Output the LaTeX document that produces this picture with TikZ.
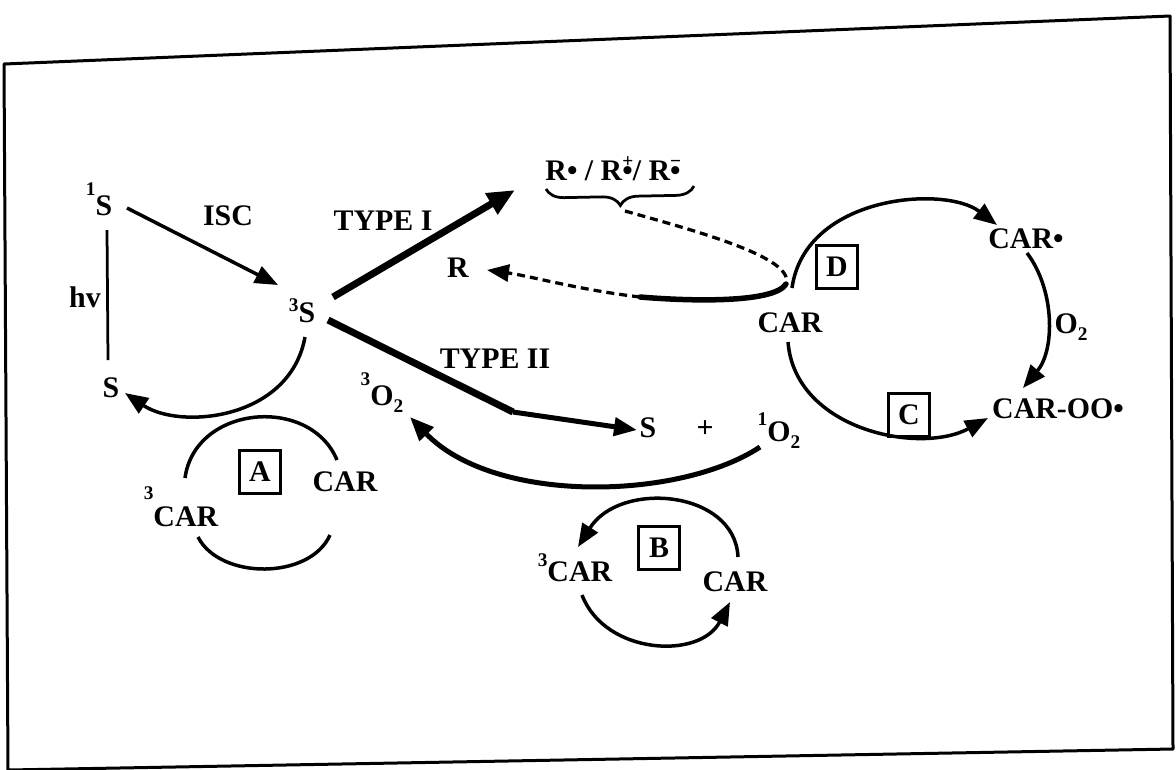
\documentclass[tikz,border=0pt]{standalone}
\usepackage{fontspec}
\setmainfont{Liberation Serif}
\usetikzlibrary{arrows.meta,decorations.pathreplacing,calc}

% raised / lowered small digits
\newcommand{\sps}[2]{\raisebox{#1pt}{\fontsize{11}{11}\selectfont\bfseries #2}}
\newcommand{\sbtwo}{\raisebox{-4.5pt}{\fontsize{11}{11}\selectfont\bfseries 2}}
% charge sign stacked over the radical dot
\newcommand{\chg}[1]{\rlap{\raisebox{7pt}{\fontsize{11}{11}\selectfont\bfseries #1}}•}

\begin{document}
\begin{tikzpicture}[x=0.02cm,y=-0.02cm,
  lbl/.style={anchor=base,inner sep=0pt,font=\fontsize{17}{20}\selectfont\bfseries},
  tagbox/.style={draw,line width=0.06cm,minimum width=0.82cm,minimum height=0.86cm,inner sep=0pt,font=\fontsize{17}{20}\selectfont\bfseries},
  arc/.style={line width=0.07cm},
  arr/.style={line width=0.07cm,-{Triangle[length=0.46cm,width=0.36cm]}},
  thk/.style={line width=0.14cm},
  thkarr/.style={line width=0.14cm,-{Triangle[length=0.55cm,width=0.46cm]}},
  dsh/.style={line width=0.065cm,dash pattern=on 0.16cm off 0.1cm}]

\useasboundingbox (0,0) rectangle (1176,769);

% frame of the figure
\draw[line width=0.06cm,line join=round] (4,64) -- (1170,16) -- (1173,749) -- (8,770) -- cycle;

% text nodes
\node[lbl] (s1)   at (99,215)  {\sps{11}{1}S};
\node[lbl] (isc)  at (228,225) {ISC};
\node[lbl] (t1)   at (383,230) {TYPE I};
\node[lbl] (rlab) at (613,180) {R• / R\chg{+}/ R\chg{\textminus}};
\node[lbl] (hv)   at (85,307)  {hv};
\node[lbl] (s3)   at (302,322) {\sps{6}{3}S};
\node[lbl] (r)    at (458,277) {R};
\node[lbl] (t2)   at (495,368) {TYPE II};
\node[lbl] (s0)   at (111,397) {S};
\node[lbl] (o3)   at (382,405) {\sps{11}{3}O\sbtwo};
\node[lbl] (s2)   at (648,437) {S};
\node[lbl] (plus) at (705,437) {+};
\node[lbl] (o1)   at (779,441) {\sps{9}{1}O\sbtwo};
\node[lbl] (carD) at (790,332) {CAR};
\node[lbl] (carr) at (1026,248) {CAR•};
\node[lbl] (o2l)  at (1071,333) {O\sbtwo};
\node[lbl] (caroo) at (1058,418) {CAR-OO•};
\node[lbl] (carA) at (345,491) {CAR};
\node[lbl] (car3A) at (181,526) {\sps{15}{3}CAR};
\node[lbl] (car3B) at (575,581) {\sps{8}{3}CAR};
\node[lbl] (carB) at (735,591) {CAR};

% boxed letters
\node[tagbox] (bA) at (260,472) {A};
\node[tagbox] (bB) at (659,548) {B};
\node[tagbox] (bC) at (909,415) {C};
\node[tagbox] (bD) at (837,267) {D};

% brace under the radical species
\coordinate (bl) at (546,189);
\coordinate (br) at (694,186);
\draw[line width=0.055cm,decorate,decoration={brace,mirror,amplitude=0.36cm}] (bl) -- (br);
\coordinate (btip) at (625,211);

% excitation and intersystem crossing
\draw[line width=0.055cm] ([shift={(8,15)}]s1.base) -- ([shift={(-3,-37)}]s0.base);
\draw[arr] ([shift={(28,-7)}]s1.base) -- ([shift={(-24,-37)}]s3.base);

% type I and type II pathways
\draw[thkarr] ([shift={(31,-25)}]s3.base) -- ([shift={(-98,10)}]rlab.base);
\coordinate (kink) at (513,412);
\draw[thk] ([shift={(26,-2)}]s3.base) -- (kink);
\draw[line width=0.1cm,-{Triangle[length=0.46cm,width=0.36cm]}] (kink) -- ([shift={(-11,-7)}]s2.base);

% decay of the triplet back to the ground state
\draw[arr] ([shift={(3,15)}]s3.base) .. controls (290,420) and (180,430) .. ([shift={(14,-4)}]s0.base);

% singlet oxygen back to triplet oxygen
\draw[line width=0.1cm,-{Triangle[length=0.48cm,width=0.38cm]}] ([shift={(-19,6)}]o1.base) .. controls (680,500) and (495,505) .. ([shift={(28,12)}]o3.base);

% electron transfer loop from the radicals back to R
\coordinate (looptip) at (786,284);
\coordinate (solidend) at (640,297);
\draw[dsh] (btip) .. controls (700,232) and (795,258) .. (looptip);
\draw[line width=0.11cm,line cap=round] (looptip) .. controls (775,302) and (700,302) .. (solidend);
\draw[dsh,-{Triangle[length=0.44cm,width=0.34cm]}] (solidend) .. controls (580,290) and (530,276) .. ([shift={(29,-7)}]r.base);

% cycle D / C
\draw[arr] ([shift={(2,-44)}]carD.base) .. controls (805,195) and (945,185) .. ([shift={(-29,-23)}]carr.base);
\draw[arr] ([shift={(-2,10)}]carD.base) .. controls (795,430) and (920,455) .. ([shift={(-70,0)}]caroo.base);
\draw[arr] ([shift={(1,5)}]carr.base) .. controls (1055,290) and (1055,350) .. ([shift={(-35,-30)}]caroo.base);

% cycle A
\draw[arc] ([shift={(4,-48)}]car3A.base) .. controls (195,405) and (310,395) .. ([shift={(-8,-31)}]carA.base);
\draw[arc] ([shift={(17,11)}]car3A.base) .. controls (220,580) and (310,580) .. ([shift={(-15,44)}]carA.base);

% cycle B
\draw[arr] ([shift={(3,-34)}]carB.base) .. controls (735,490) and (620,480) .. ([shift={(3,-34)}]car3B.base);
\draw[arr] ([shift={(7,14)}]car3B.base) .. controls (605,655) and (700,660) .. ([shift={(-5,11)}]carB.base);

\end{tikzpicture}
\end{document}
